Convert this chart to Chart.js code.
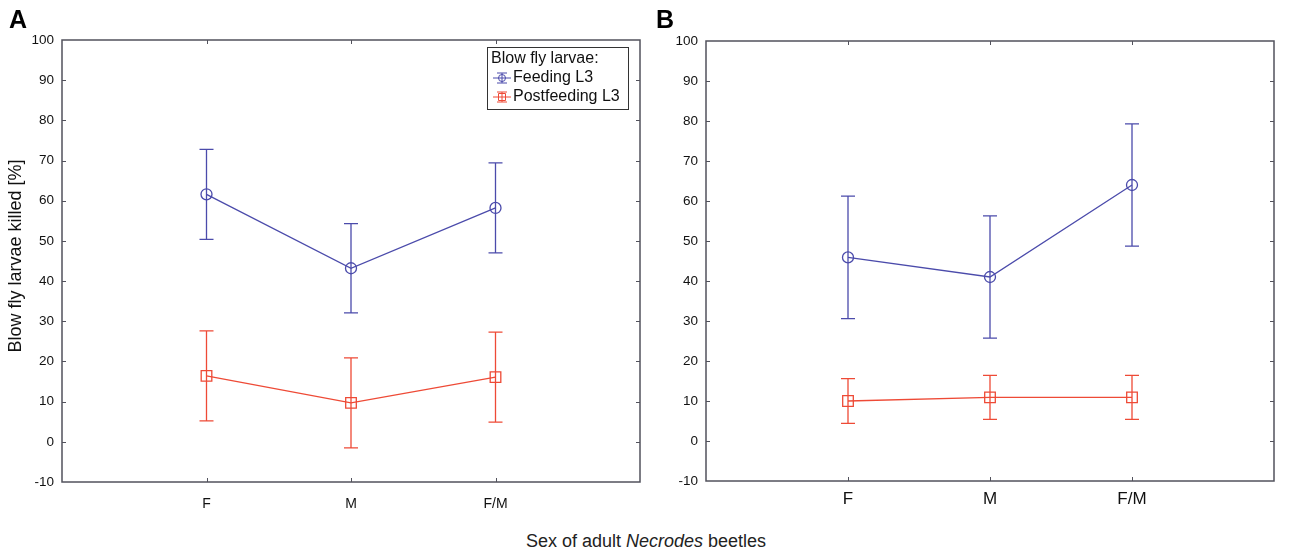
<!DOCTYPE html>
<html>
<head>
<meta charset="utf-8">
<script src="https://cdn.jsdelivr.net/npm/chart.js@4"></script>
<style>
  body { margin: 0; background: #fff; font-family: "Liberation Sans", Arial, sans-serif; }
  #wrap { position: relative; width: 1290px; height: 554px; overflow: hidden; }
  canvas { position: absolute; top: 0; }
  #chartA { left: 0; }
  #chartB { left: 650px; }
  .panel { position: absolute; font-weight: bold; font-size: 25px; color: #000; }
  #ytitle { position: absolute; left: 15px; top: 256px; font-size: 18px; color: #111;
            transform: translate(-50%, -50%) rotate(-90deg); white-space: nowrap; }
  #xtitle { position: absolute; left: 646px; top: 541px; font-size: 18px; color: #222;
            transform: translate(-50%, -50%); white-space: nowrap; }
</style>
</head>
<body>
<div id="wrap">
  <canvas id="chartB" width="640" height="525"></canvas>
  <canvas id="chartA" width="654" height="525"></canvas>
  <div class="panel" style="left:9px; top:5px;">A</div>
  <div class="panel" style="left:656px; top:5px;">B</div>
  <div id="ytitle">Blow fly larvae killed [%]</div>
  <div id="xtitle">Sex of adult <i>Necrodes</i> beetles</div>
</div>
<script>
// sex groups on the x axis
var categories = ['F', 'M', 'F/M'];
var seriesNames = ['Feeding L3', 'Postfeeding L3'];
var legendTitle = 'Blow fly larvae:';

// panel A: means and error half-widths (%)
var feedingA = [61.6, 43.2, 58.2];
var feedingErrA = [11.2, 11.1, 11.2];
var postfeedingA = [16.4, 9.7, 16.1];
var postfeedingErrA = [11.2, 11.2, 11.2];

// panel B
var feedingB = [45.9, 41.0, 64.0];
var feedingErrB = [15.3, 15.3, 15.3];
var postfeedingB = [10.0, 10.9, 10.9];
var postfeedingErrB = [5.6, 5.5, 5.5];

var yMin = -10, yMax = 100, yStep = 10;

var blue = '#4b4bab';
var red = '#ee4a36';
var axisColor = '#52525c';

function toPoints(values) {
  return values.map(function(v, i) { return { x: i + 1, y: v }; });
}

// vertical error bars with caps, drawn under the markers
var errorBars = {
  id: 'errorBars',
  beforeDatasetsDraw: function(chart) {
    var ctx = chart.ctx;
    var xs = chart.scales.x, ys = chart.scales.y;
    chart.data.datasets.forEach(function(ds) {
      ctx.save();
      ctx.strokeStyle = ds.borderColor;
      ctx.lineWidth = 1.3;
      ds.data.forEach(function(p, i) {
        var e = ds.errors[i];
        var px = xs.getPixelForValue(p.x);
        var top = ys.getPixelForValue(p.y + e);
        var bot = ys.getPixelForValue(p.y - e);
        ctx.beginPath();
        ctx.moveTo(px, top); ctx.lineTo(px, bot);
        ctx.moveTo(px - 7, top); ctx.lineTo(px + 7, top);
        ctx.moveTo(px - 7, bot); ctx.lineTo(px + 7, bot);
        ctx.stroke();
      });
      ctx.restore();
    });
  }
};

// box around the plot with short inward ticks on every side
var frame = {
  id: 'frame',
  afterDraw: function(chart) {
    var ctx = chart.ctx, a = chart.chartArea;
    var xs = chart.scales.x, ys = chart.scales.y;
    ctx.save();
    ctx.strokeStyle = axisColor;
    ctx.lineWidth = 1.5;
    ctx.strokeRect(a.left, a.top, a.right - a.left, a.bottom - a.top);
    ctx.lineWidth = 1;
    ctx.beginPath();
    categories.forEach(function(c, i) {
      var px = Math.round(xs.getPixelForValue(i + 1)) + 0.5;
      ctx.moveTo(px, a.bottom); ctx.lineTo(px, a.bottom - 4);
      ctx.moveTo(px, a.top); ctx.lineTo(px, a.top + 4);
    });
    for (var v = yMin + yStep; v < yMax; v += yStep) {
      var py = Math.round(ys.getPixelForValue(v)) + 0.5;
      ctx.moveTo(a.left, py); ctx.lineTo(a.left + 4, py);
      ctx.moveTo(a.right, py); ctx.lineTo(a.right - 4, py);
    }
    ctx.stroke();
    ctx.restore();
  }
};

// boxed legend in the upper right of panel A
var boxLegend = {
  id: 'boxLegend',
  afterDraw: function(chart) {
    if (!chart.options.plugins.boxLegend || !chart.options.plugins.boxLegend.show) return;
    var ctx = chart.ctx;
    var bx = 487, by = 47, bw = 141, bh = 62;
    ctx.save();
    ctx.fillStyle = '#fff';
    ctx.fillRect(bx, by, bw, bh);
    ctx.strokeStyle = '#333';
    ctx.lineWidth = 1;
    ctx.strokeRect(bx + 0.5, by + 0.5, bw, bh);
    ctx.font = '16px "Liberation Sans", Arial, sans-serif';
    ctx.fillStyle = '#111';
    ctx.textBaseline = 'middle';
    ctx.fillText(legendTitle, bx + 4, by + 12);
    chart.data.datasets.forEach(function(ds, i) {
      var cy = by + 31 + i * 19;
      var x0 = bx + 6, x1 = bx + 24, cx = (x0 + x1) / 2;
      ctx.strokeStyle = ds.borderColor;
      ctx.lineWidth = 1;
      ctx.beginPath();
      ctx.moveTo(x0, cy); ctx.lineTo(x1, cy);
      ctx.moveTo(cx, cy - 5); ctx.lineTo(cx, cy + 5);
      ctx.moveTo(cx - 5, cy - 5); ctx.lineTo(cx + 5, cy - 5);
      ctx.moveTo(cx - 5, cy + 5); ctx.lineTo(cx + 5, cy + 5);
      ctx.stroke();
      ctx.beginPath();
      if (ds.pointStyle === 'rect') {
        ctx.rect(cx - 3.5, cy - 3.5, 7, 7);
      } else {
        ctx.arc(cx, cy, 3.5, 0, Math.PI * 2);
      }
      ctx.stroke();
      ctx.fillStyle = '#111';
      ctx.fillText(ds.label, x1 + 2, cy);
    });
    ctx.restore();
  }
};

function makeChart(id, feeding, feedingErr, post, postErr, opt) {
  return new Chart(document.getElementById(id).getContext('2d'), {
    type: 'line',
    data: {
      datasets: [{
        label: seriesNames[0],
        data: toPoints(feeding),
        errors: feedingErr,
        borderColor: blue,
        backgroundColor: 'rgba(0,0,0,0)',
        borderWidth: 1.3,
        pointStyle: 'circle',
        pointRadius: 5.5,
        pointBorderWidth: 1.3,
        tension: 0
      }, {
        label: seriesNames[1],
        data: toPoints(post),
        errors: postErr,
        borderColor: red,
        backgroundColor: 'rgba(0,0,0,0)',
        borderWidth: 1.3,
        pointStyle: 'rect',
        pointRadius: 7.5,
        pointBorderWidth: 1.3,
        tension: 0
      }]
    },
    options: {
      responsive: false,
      animation: false,
      events: [],
      clip: false,
      layout: { padding: { top: opt.top, right: opt.right, left: 0, bottom: 0 } },
      plugins: {
        legend: { display: false },
        tooltip: { enabled: false },
        boxLegend: { show: opt.legend }
      },
      scales: {
        x: {
          type: 'linear',
          min: 0, max: 4,
          afterFit: function(s) { s.height = opt.xHeight; },
          grid: { display: false, drawTicks: false },
          border: { display: false },
          ticks: {
            stepSize: 1,
            autoSkip: false,
            maxRotation: 0,
            padding: opt.xPad,
            color: '#111',
            font: { family: '"Liberation Sans", Arial, sans-serif', size: opt.xFont },
            callback: function(v) { return categories[v - 1] || ''; }
          }
        },
        y: {
          min: yMin, max: yMax,
          afterFit: function(s) { s.width = opt.yWidth; },
          grid: { display: false, drawTicks: false },
          border: { display: false },
          ticks: {
            stepSize: yStep,
            padding: 8,
            color: '#111',
            font: { family: '"Liberation Sans", Arial, sans-serif', size: 13.5 }
          }
        }
      }
    },
    plugins: [errorBars, frame, boxLegend]
  });
}

makeChart('chartA', feedingA, feedingErrA, postfeedingA, postfeedingErrA,
  { top: 40, right: 14, xHeight: 43, yWidth: 62, xPad: 14, xFont: 14, legend: true });
makeChart('chartB', feedingB, feedingErrB, postfeedingB, postfeedingErrB,
  { top: 41, right: 16, xHeight: 44, yWidth: 56, xPad: 8, xFont: 17, legend: false });
</script>
</body>
</html>
